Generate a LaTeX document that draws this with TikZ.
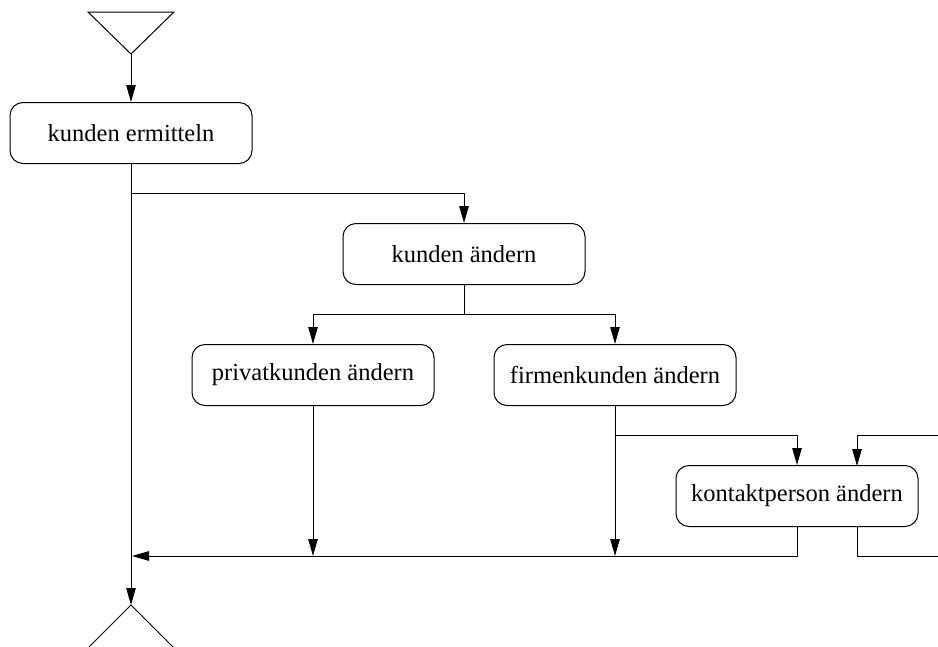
\documentclass[tikz,border=0pt]{standalone}
\usepackage{fontspec}
\setmainfont{Liberation Serif}
\usetikzlibrary{arrows.meta}
\begin{document}
\begin{tikzpicture}[x=1pt,y=-1pt,
  line width=1pt,
  box/.style={draw,rounded corners=13pt,minimum width=242pt,minimum height=61pt,inner sep=0pt,font=\fontsize{24.5}{29}\selectfont},
  arr/.style={-{Triangle[length=17pt,width=9.5pt]}}]
\clip (0,0) rectangle (938,646);
\useasboundingbox (0,0) rectangle (938,646);
% start and end markers
\coordinate (s) at (131,54);
\coordinate (sl) at (88,12);
\coordinate (sr) at (174,12);
\coordinate (e) at (131,605);
\coordinate (el) at (80,656);
\coordinate (er) at (182,656);
\draw (sl) -- (sr) -- (s) -- cycle;
\draw (el) -- (e) -- (er);
% activities
\node[box] (ke) at (131,133) {kunden ermitteln};
\node[box] (ka) at (464,254) {kunden ändern};
\node[box] (pa) at (313,375) {privatkunden ändern};
\node[box] (fa) at (615,375) {firmenkunden ändern};
\node[box] (kp) at (797,496) {kontaktperson ändern};
% junctions
\coordinate (j1) at (131,193);
\coordinate (j2) at (464,314);
\coordinate (j3) at (615,435);
\coordinate (m) at (131,556);
\coordinate (kpa) at (857,466);
\coordinate (kpb) at (857,527);
\coordinate (r1) at (950,556);
\coordinate (r2) at (950,435);
% connectors
\draw[arr] (s) -- (ke.north);
\draw[arr] (ke.south) -- (e);
\draw[arr] (j1) -| (ka.north);
\draw (ka.south) -- (j2);
\draw[arr] (j2) -| (pa.north);
\draw[arr] (j2) -| (fa.north);
\draw[arr] (pa.south) -- (pa.south |- m);
\draw[arr] (fa.south) -- (fa.south |- m);
\draw[arr] (j3) -| (kp.north);
\draw[arr,shorten >=1pt] (kp.south) |- (m);
\draw (kpb) |- (r1);
\draw[arr] (r2) -| (kpa);
\end{tikzpicture}
\end{document}
